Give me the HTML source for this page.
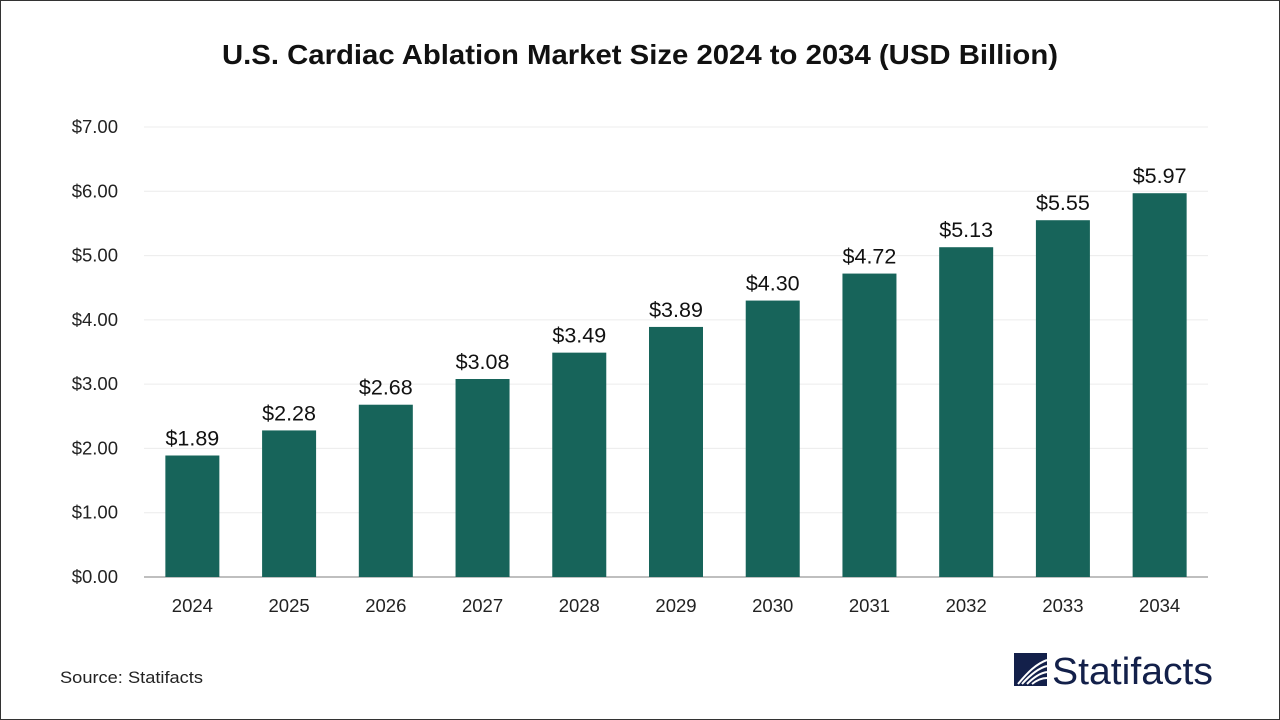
<!DOCTYPE html>
<html><head><meta charset="utf-8"><style>
html,body{margin:0;padding:0;background:#fff;}
body{width:1280px;height:720px;overflow:hidden;font-family:"Liberation Sans",sans-serif;}
#frame{position:absolute;left:0;top:0;width:1278px;height:718px;border:1px solid #333;}
</style></head><body>
<div id="frame"></div>
<svg id="chart" width="1280" height="720" style="position:absolute;left:0;top:0">
<text x="222" y="64" textLength="836" lengthAdjust="spacingAndGlyphs" font-size="28" font-weight="bold" fill="#111">U.S. Cardiac Ablation Market Size 2024 to 2034 (USD Billion)</text>
<g id="grid"></g><g id="bars"></g>
<text x="60" y="683" textLength="143" lengthAdjust="spacingAndGlyphs" font-size="17" fill="#222">Source: Statifacts</text>
<g>
<rect x="1014" y="653" width="33" height="33" fill="#13204a"/>
<path d="M1018,684 C1028,672 1036,664 1047,660 M1022,684 C1031,674 1039,668 1047,666 M1027,684 C1034,677 1040,673 1047,672 M1032,684 C1037,680 1042,678 1047,678" stroke="#fff" stroke-width="2" fill="none"/>
<text x="1052" y="684" textLength="161" lengthAdjust="spacingAndGlyphs" font-size="38" fill="#13204a">Statifacts</text>
</g>
</svg>
<script>
const years=["2024","2025","2026","2027","2028","2029","2030","2031","2032","2033","2034"];
const values=[1.89,2.28,2.68,3.08,3.49,3.89,4.30,4.72,5.13,5.55,5.97];
const yTicks=[0,1,2,3,4,5,6,7];
const NS="http://www.w3.org/2000/svg";
const x0=144,x1=1208,yBase=577,yTop=127,yMax=7;
const y=v=>yBase-(v/yMax)*(yBase-yTop);
const step=(x1-x0)/years.length;
const xc=i=>x0+step*(i+0.5);
const grid=document.getElementById('grid'),bars=document.getElementById('bars');
function mk(tag,attrs,parent,txt){const e=document.createElementNS(NS,tag);for(const k in attrs)e.setAttribute(k,attrs[k]);if(txt!==undefined)e.textContent=txt;parent.appendChild(e);return e;}
yTicks.forEach(t=>{
 const l=mk('line',{x1:x0,x2:x1,y1:y(t),y2:y(t),stroke:t===0?'#aaa':'#ececec','stroke-width':t===0?1.5:1},grid);
 
 
 const tx=mk('text',{x:118,y:y(t)+6,'text-anchor':'end','font-size':18.5,fill:'#222'},grid,'$'+t.toFixed(2));
 
 
});
years.forEach((yr,i)=>{
 const v=values[i],w=54;
 const r=mk('rect',{x:xc(i)-w/2,y:y(v),width:w,height:yBase-y(v),fill:'#17645a'},bars);
 
 
 const lb=mk('text',{x:xc(i),y:y(v)-10,'text-anchor':'middle','font-size':21.5,fill:'#111'},bars,'$'+v.toFixed(2));
 
 
 const xl=mk('text',{x:xc(i),y:612,'text-anchor':'middle','font-size':18.5,fill:'#222'},bars,yr);
 
 
});
</script>
</body></html>
